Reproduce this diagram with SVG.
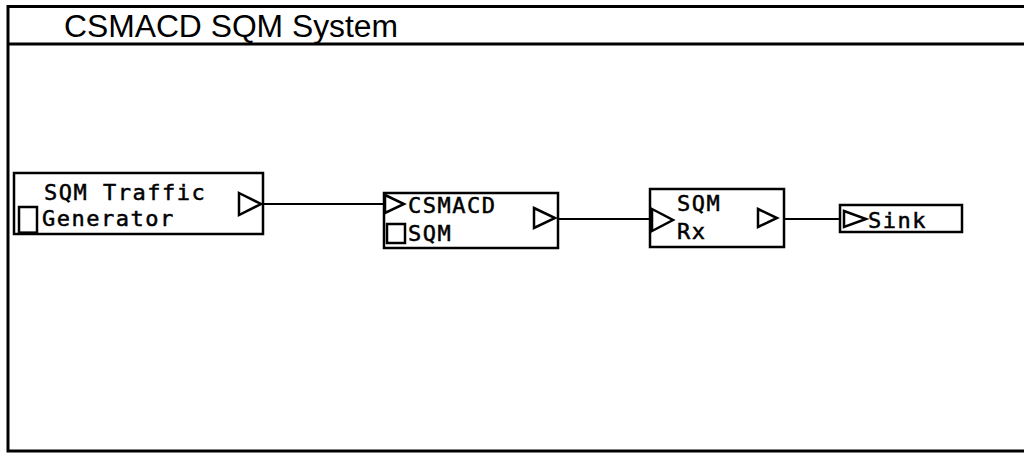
<svg xmlns="http://www.w3.org/2000/svg" width="1024" height="453" viewBox="0 0 1024 453">
<style>
.frame{fill:none;stroke:#000;stroke-width:3}
.box{fill:#fff;stroke:#000;stroke-width:2.5}
.port{fill:none;stroke:#000;stroke-width:2.5;stroke-linejoin:miter}
.wire{stroke:#000;stroke-width:2;fill:none}
.lbl{font-family:"DejaVu Sans Mono",monospace;font-size:22px;letter-spacing:1.5px;fill:#000;stroke:#000;stroke-width:0.5}
.title{font-family:"Liberation Sans",Arial,sans-serif;font-size:31px;fill:#000}
</style>
<rect width="1024" height="453" fill="#fff"/>
<g id="frame">
<rect class="frame" x="8" y="6.5" width="1030" height="444.5"/>
<line class="frame" x1="8" y1="44" x2="1024" y2="44"/>
<text class="title" x="64" y="37" textLength="334" lengthAdjust="spacingAndGlyphs">CSMACD SQM System</text>
</g>
<g id="connectors">
<line class="wire" x1="263" y1="204" x2="385" y2="204"/>
<line class="wire" x1="558" y1="219" x2="651" y2="219"/>
<line class="wire" x1="784" y1="219" x2="841" y2="219"/>
</g>
<g id="traffic-generator">
<rect class="box" x="14" y="173" width="249" height="61"/>
<rect class="box" x="19" y="207" width="18" height="26"/>
<line x1="19" y1="233" x2="37" y2="233" stroke="#000" stroke-width="3"/>
<polygon class="port" points="239,193 261,204 239,215"/>
<text class="lbl" x="44" y="200">SQM Traffic</text>
<text class="lbl" x="42" y="226">Generator</text>
</g>
<g id="csmacd-sqm">
<rect class="box" x="384" y="193" width="174" height="55"/>
<polygon class="port" points="385,195 404,204 385,213"/>
<rect class="box" x="387" y="224" width="18" height="19"/>
<polygon class="port" points="534,208 555,218 534,228"/>
<text class="lbl" x="408" y="213">CSMACD</text>
<text class="lbl" x="408" y="241">SQM</text>
</g>
<g id="sqm-rx">
<rect class="box" x="650" y="189" width="134" height="58"/>
<polygon class="port" points="652,209 673,220 652,231"/>
<polygon class="port" points="758,209 777,218 758,227"/>
<text class="lbl" x="677" y="211">SQM</text>
<text class="lbl" x="677" y="239">Rx</text>
</g>
<g id="sink">
<rect class="box" x="840" y="205" width="122" height="27" stroke-width="3"/>
<polygon class="port" points="844,211 866,219 844,227"/>
<text class="lbl" x="868" y="228">Sink</text>
</g>
</svg>
